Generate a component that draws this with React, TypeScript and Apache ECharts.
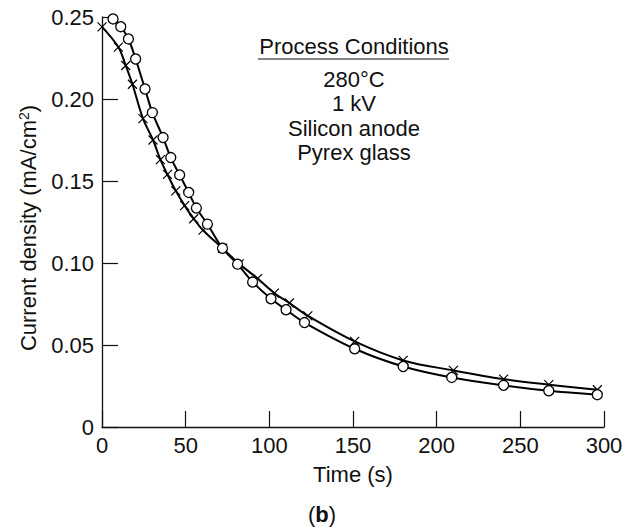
import React, { useEffect, useRef } from 'react';
import * as echarts from 'echarts';

const crossTime = [0, 9.8, 14.2, 18.2, 24.5, 30.5, 34.9, 39.1, 44.1, 49.4, 54.8, 60.4, 72, 82, 93, 103, 112, 123, 151, 180, 210, 240, 267, 296];
const crossDensity = [0.244, 0.2316, 0.2204, 0.209, 0.188, 0.175, 0.163, 0.154, 0.144, 0.135, 0.127, 0.12, 0.109, 0.0995, 0.0905, 0.0816, 0.0756, 0.0678, 0.0522, 0.0406, 0.0345, 0.0292, 0.0258, 0.0227];

const circleTime = [6.6, 11.2, 15.8, 20.1, 25.7, 30.1, 36.5, 41.1, 46.4, 51.8, 56.4, 63, 72, 81, 90, 101, 110, 121, 151, 180, 209, 240, 267, 296];
const circleDensity = [0.2488, 0.2441, 0.2366, 0.2244, 0.2061, 0.1917, 0.1765, 0.1643, 0.1537, 0.143, 0.1335, 0.1237, 0.109, 0.0993, 0.0884, 0.0782, 0.0715, 0.0637, 0.0477, 0.0369, 0.0302, 0.0254, 0.0221, 0.0197];

const conditionsTitle = 'Process Conditions';
const conditions = ['280°C', '1 kV', 'Silicon anode', 'Pyrex glass'];

const FONT = '"Liberation Sans", Arial, Helvetica, sans-serif';
const FS = 22;

export default function App() {
  const ref = useRef<HTMLDivElement>(null);
  useEffect(() => {
    const chart = echarts.init(ref.current!, null, { renderer: 'svg' });
    const crossData = crossTime.map((t, i) => [t, crossDensity[i]]);
    const circleData = circleTime.map((t, i) => [t, circleDensity[i]]);
    const textStyle = { fill: '#111', font: `${FS}px ${FONT}`, textAlign: 'center', textVerticalAlign: 'middle' };
    const graphics: any[] = [
      { type: 'text', x: 354, y: 46, style: { ...textStyle, text: conditionsTitle } },
      { type: 'line', shape: { x1: 258, y1: 59, x2: 449, y2: 59 }, style: { stroke: '#111', lineWidth: 1.2 } },
      ...conditions.map((c, i) => ({ type: 'text', x: 354, y: 79 + i * 24.5, style: { ...textStyle, text: c } })),
      {
        type: 'text', x: 28, y: 228, rotation: Math.PI / 2,
        style: {
          text: 'Current density (mA/cm{sup|2})', fill: '#111', fontSize: FS, fontFamily: FONT,
          align: 'center', verticalAlign: 'middle',
          rich: { sup: { fontSize: 14, fontFamily: FONT, fill: '#111', verticalAlign: 'top', lineHeight: 22, padding: [0, 0, 10, 0] } },
        },
      },
      { type: 'text', x: 353, y: 474, style: { ...textStyle, text: 'Time (s)' } },
      {
        type: 'text', x: 322, y: 514,
        style: {
          text: '({b|b})', fill: '#111', fontSize: FS, fontFamily: FONT, align: 'center', verticalAlign: 'middle',
          rich: { b: { fontSize: FS, fontFamily: FONT, fontWeight: 'bold', fill: '#111' } },
        },
      },
    ];
    chart.setOption({
      animation: false,
      backgroundColor: '#fff',
      grid: { left: 102, right: 25, top: 17, bottom: 102 },
      xAxis: {
        type: 'value', min: 0, max: 300, interval: 50,
        axisLine: { lineStyle: { color: '#111', width: 1.3 } },
        axisTick: { inside: true, length: 16, lineStyle: { color: '#111', width: 1.2 } },
        axisLabel: { color: '#111', fontSize: FS, fontFamily: FONT, margin: 7 },
        splitLine: { show: false },
      },
      yAxis: {
        type: 'value', min: 0, max: 0.25, interval: 0.05,
        axisLine: { show: true, lineStyle: { color: '#111', width: 1.3 } },
        axisTick: { show: true, inside: true, length: 16, lineStyle: { color: '#111', width: 1.2 } },
        axisLabel: {
          color: '#111', fontSize: FS, fontFamily: FONT, margin: 8,
          formatter: (v: number) => (v === 0 ? '0' : v.toFixed(2)),
        },
        splitLine: { show: false },
      },
      series: [
        {
          type: 'line', data: crossData, smooth: 0.35,
          symbol: 'path://M0,0L10,10M10,0L0,10', symbolSize: 9,
          lineStyle: { color: '#000', width: 2 },
          itemStyle: { color: 'none', borderColor: '#000', borderWidth: 1.2 },
          z: 2,
        },
        {
          type: 'line', data: circleData, smooth: 0.35,
          symbol: 'circle', symbolSize: 10,
          lineStyle: { color: '#000', width: 2 },
          itemStyle: { color: '#fff', borderColor: '#000', borderWidth: 1.3 },
          z: 3,
        },
      ],
      graphic: graphics,
    });
    return () => chart.dispose();
  }, []);
  return <div ref={ref} style={{ position: 'fixed', left: 0, top: 0, width: 629, height: 529 }} />;
}
